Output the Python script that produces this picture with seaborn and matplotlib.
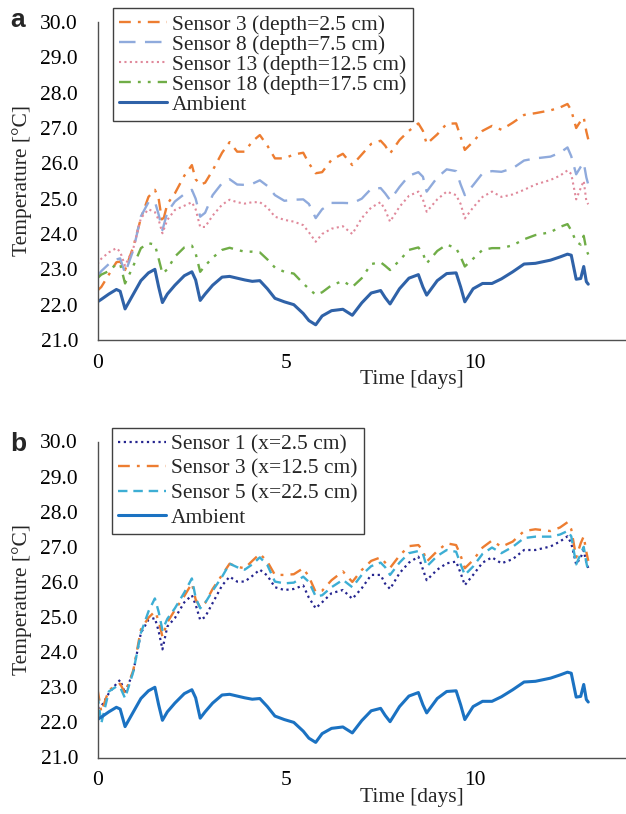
import matplotlib
matplotlib.use('Agg')
import matplotlib.pyplot as plt
from matplotlib.ticker import MultipleLocator, FormatStrFormatter
import seaborn as sns

# time axis shared by every series [days]
time_days = [0, 0.1, 0.3, 0.5, 0.6, 0.73, 0.95, 1.15, 1.35, 1.52, 1.62, 1.72, 1.85, 2.05,
             2.3, 2.5, 2.6, 2.72, 2.85, 3.05, 3.3, 3.5, 3.7, 3.9, 4.1, 4.3, 4.5, 4.7,
             4.95, 5.2, 5.45, 5.6, 5.78, 5.95, 6.2, 6.5, 6.75, 7.0, 7.25, 7.5, 7.62, 7.75,
             8.0, 8.25, 8.5, 8.62, 8.72, 9.0, 9.25, 9.5, 9.62, 9.73, 9.95, 10.2, 10.45,
             10.7, 11.0, 11.3, 11.6, 12.0, 12.25, 12.45, 12.55, 12.68, 12.8, 12.88, 12.95, 13.0]

ambient = [22.08, 22.15, 22.3, 22.43, 22.38, 21.88, 22.3, 22.68, 22.9, 23.0, 22.5, 22.06, 22.3, 22.55,
           22.82, 22.93, 22.7, 22.12, 22.3, 22.55, 22.78, 22.8, 22.75, 22.7, 22.66, 22.68, 22.45, 22.18,
           22.08, 22.0, 21.75, 21.55, 21.43, 21.68, 21.83, 21.87, 21.7, 22.05, 22.33, 22.4, 22.2, 22.02,
           22.45, 22.75, 22.85, 22.5, 22.27, 22.68, 22.88, 22.9, 22.5, 22.08, 22.45, 22.6, 22.6,
           22.73, 22.93, 23.15, 23.17, 23.26, 23.35, 23.43, 23.4, 22.72, 22.74, 23.08, 22.65, 22.58]

# panel a: depth sensors
depth_s3 = [22.4, 22.5, 22.85, 23.2, 23.22, 22.98, 23.64, 24.45, 25.05, 25.25, 25.0, 24.3, 24.85, 25.15,
            25.65, 25.95, 25.55, 25.4, 25.45, 25.8, 26.3, 26.6, 26.33, 26.33, 26.62, 26.8, 26.5, 26.14,
            26.14, 26.25, 26.3, 26.0, 25.72, 25.75, 26.1, 26.27, 25.95, 26.25, 26.55, 26.64, 26.5, 26.28,
            26.66, 26.92, 27.13, 26.92, 26.55, 26.82, 27.12, 27.13, 26.75, 26.38, 26.61, 26.92, 27.06,
            26.95, 27.15, 27.37, 27.42, 27.5, 27.58, 27.68, 27.5, 27.0, 27.2, 27.3, 26.9, 26.68]
depth_s8 = [22.8, 22.95, 23.15, 23.28, 23.31, 22.89, 23.55, 24.5, 24.9, 24.92, 24.55, 24.11, 24.62, 24.92,
            25.13, 25.25, 25.0, 24.49, 24.6, 25.1, 25.44, 25.55, 25.4, 25.39, 25.42, 25.52, 25.36, 25.1,
            24.94, 24.97, 24.98, 24.85, 24.45, 24.7, 24.88, 24.88, 24.87, 25.0, 25.28, 25.3, 25.15, 24.96,
            25.33, 25.65, 25.75, 25.62, 25.2, 25.6, 25.83, 25.78, 25.4, 25.1, 25.38, 25.72, 25.78,
            25.76, 25.86, 26.08, 26.14, 26.19, 26.3, 26.45, 26.2, 25.69, 25.9, 26.02, 25.6, 25.4]
depth_s13 = [23.15, 23.3, 23.48, 23.6, 23.5, 23.1, 23.6, 24.45, 24.7, 24.62, 24.4, 24.02, 24.4, 24.68,
             24.8, 24.9, 24.7, 24.2, 24.2, 24.52, 24.83, 24.97, 24.9, 24.86, 24.9, 24.9, 24.75, 24.49,
             24.4, 24.35, 24.25, 24.05, 23.78, 24.0, 24.15, 24.22, 24.0, 24.45, 24.75, 24.9, 24.68, 24.35,
             24.77, 25.08, 25.2, 24.98, 24.63, 24.98, 25.2, 25.1, 24.85, 24.44, 24.75, 25.05, 25.2,
             25.05, 25.12, 25.25, 25.4, 25.53, 25.65, 25.8, 25.7, 24.98, 25.3, 25.5, 24.93, 24.84]
depth_s18 = [22.75, 22.85, 22.95, 23.15, 23.15, 22.6, 23.1, 23.6, 23.74, 23.7, 23.3, 22.88, 23.0, 23.36,
             23.62, 23.67, 23.45, 22.93, 23.1, 23.33, 23.55, 23.61, 23.55, 23.5, 23.5, 23.48, 23.28, 23.05,
             22.93, 22.88, 22.6, 22.45, 22.28, 22.35, 22.55, 22.67, 22.5, 22.75, 23.15, 23.2, 23.1, 22.98,
             23.25, 23.55, 23.62, 23.45, 23.17, 23.52, 23.7, 23.6, 23.35, 23.08, 23.3, 23.55, 23.6,
             23.6, 23.68, 23.85, 23.97, 24.05, 24.2, 24.28, 24.1, 23.78, 23.7, 23.95, 23.55, 23.42]

# panel b: horizontal sensors
x_s1 = [22.4, 22.45, 22.83, 23.1, 23.21, 22.83, 23.45, 24.55, 24.92, 24.97, 24.6, 24.08, 24.73, 24.97,
        25.42, 25.62, 25.35, 24.92, 25.0, 25.4, 25.9, 26.15, 26.01, 26.01, 26.17, 26.35, 26.18, 25.85,
        25.77, 25.8, 25.9, 25.55, 25.25, 25.42, 25.68, 25.77, 25.52, 25.82, 26.2, 26.2, 25.95, 25.8,
        26.25, 26.55, 26.72, 26.36, 26.05, 26.35, 26.53, 26.58, 26.25, 25.91, 26.2, 26.55, 26.7,
        26.53, 26.65, 26.91, 26.91, 27.01, 27.15, 27.3, 27.1, 26.5, 26.7, 26.9, 26.55, 26.4]
x_s3 = [22.95, 22.3, 22.92, 23.05, 23.1, 22.83, 23.49, 24.65, 24.98, 25.16, 24.9, 24.44, 24.85, 25.2,
        25.6, 25.96, 25.5, 25.28, 25.4, 25.8, 26.2, 26.52, 26.43, 26.39, 26.6, 26.8, 26.58, 26.2,
        26.2, 26.22, 26.39, 26.15, 25.71, 25.75, 26.05, 26.3, 26.0, 26.34, 26.6, 26.7, 26.55, 26.4,
        26.75, 27.02, 27.05, 26.9, 26.58, 26.88, 27.1, 27.05, 26.75, 26.39, 26.62, 26.98, 27.18,
        27.0, 27.15, 27.45, 27.5, 27.45, 27.55, 27.7, 27.5, 26.7, 27.1, 27.3, 26.85, 26.6]
x_s5 = [22.8, 21.97, 22.88, 23.02, 23.0, 22.69, 23.45, 24.55, 25.16, 25.53, 25.15, 24.63, 24.95, 25.25,
        25.7, 26.1, 25.55, 25.25, 25.4, 25.75, 26.15, 26.52, 26.42, 26.35, 26.5, 26.7, 26.48, 26.01,
        25.96, 25.98, 26.15, 26.0, 25.59, 25.62, 25.85, 26.06, 25.85, 26.2, 26.45, 26.55, 26.42, 26.2,
        26.55, 26.82, 26.88, 26.8, 26.44, 26.74, 26.91, 26.86, 26.5, 26.2, 26.44, 26.8, 26.98,
        26.82, 27.0, 27.25, 27.29, 27.29, 27.35, 27.45, 27.3, 26.5, 26.8, 27.0, 26.55, 26.3]

sns.set_style('white')
plt.rcParams['font.family'] = ['Liberation Serif', 'DejaVu Serif']
plt.rcParams['font.size'] = 15.5

fig = plt.figure(figsize=(6.26, 8.14), dpi=100)
ax_a = fig.add_axes([97.5 / 626, 1 - 340 / 814, 528.5 / 626, 318 / 814])
ax_b = fig.add_axes([97.5 / 626, 1 - 757.5 / 814, 528.5 / 626, 316 / 814])

series_a = [
    (depth_s3, 'Sensor 3 (depth=2.5 cm)', '#ED7D31', (0, (5, 3, 1.2, 3)), 1.7),
    (depth_s8, 'Sensor 8 (depth=7.5 cm)', '#8FAADC', (0, (7, 4)), 1.7),
    (depth_s13, 'Sensor 13 (depth=12.5 cm)', '#E0899B', (0, (1, 1.6)), 1.5),
    (depth_s18, 'Sensor 18 (depth=17.5 cm)', '#70AD47', (0, (5, 3, 1.2, 3, 1.2, 3)), 1.7),
    (ambient, 'Ambient', '#2F62A8', '-', 2.2),
]
series_b = [
    (x_s1, 'Sensor 1 (x=2.5 cm)', '#25258F', (0, (1, 1.6)), 1.6),
    (x_s3, 'Sensor 3 (x=12.5 cm)', '#ED7D31', (0, (5, 3, 1.2, 3)), 1.7),
    (x_s5, 'Sensor 5 (x=22.5 cm)', '#3DAED4', (0, (4, 2.5)), 1.7),
    (ambient, 'Ambient', '#1B72C2', '-', 2.2),
]

for ax, series in [(ax_a, series_a), (ax_b, series_b)]:
    for vals, name, col, ls, lw in series:
        sns.lineplot(x=time_days, y=vals, ax=ax, color=col, linestyle=ls,
                     linewidth=lw, label=name)

    ax.set_xlim(0, 14)
    ax.set_ylim(21, 30)
    ax.xaxis.set_major_locator(MultipleLocator(5))
    ax.xaxis.set_minor_locator(MultipleLocator(1))
    ax.yaxis.set_major_locator(MultipleLocator(1))
    ax.yaxis.set_minor_locator(MultipleLocator(0.2))
    ax.yaxis.set_major_formatter(FormatStrFormatter('%.1f'))
    ax.tick_params(which='both', direction='in', color='#505050', labelcolor='black')
    ax.tick_params(axis='x', which='both', length=4, width=0.9, pad=10)
    ax.tick_params(axis='y', which='both', length=3, width=0.8, pad=14)
    for side in ['top', 'right']:
        ax.spines[side].set_visible(False)
    for side in ['left', 'bottom']:
        ax.spines[side].set_color('#505050')
        ax.spines[side].set_linewidth(1.0)
    ax.set_xlabel('Time [days]')
    ax.set_ylabel('Temperature [°C]')
    ax.xaxis.set_label_coords(0.595, -0.095)
    ax.yaxis.set_label_coords(-0.124, 0.5)

leg_kw = dict(loc='upper left', bbox_transform=fig.transFigure, borderaxespad=0,
              frameon=True, fancybox=False, framealpha=1, edgecolor='#404040',
              handlelength=2.2, handletextpad=0.25, borderpad=0.3, fontsize=15.5)
leg_a = ax_a.legend(bbox_to_anchor=(113 / 626, 1 - 8 / 814), labelspacing=0.0, **leg_kw)
leg_b = ax_b.legend(bbox_to_anchor=(112 / 626, 1 - 428 / 814), labelspacing=0.2, **leg_kw)
for leg in [leg_a, leg_b]:
    leg.get_frame().set_linewidth(1.0)

fig.text(18 / 626, 1 - 20 / 814, 'a', family=['Liberation Sans', 'DejaVu Sans'],
         fontweight='bold', fontsize=19, ha='center', va='center')
fig.text(18 / 626, 1 - 444 / 814, 'b', family=['Liberation Sans', 'DejaVu Sans'],
         fontweight='bold', fontsize=19, ha='center', va='center')

fig.savefig('out.png', dpi=100)
